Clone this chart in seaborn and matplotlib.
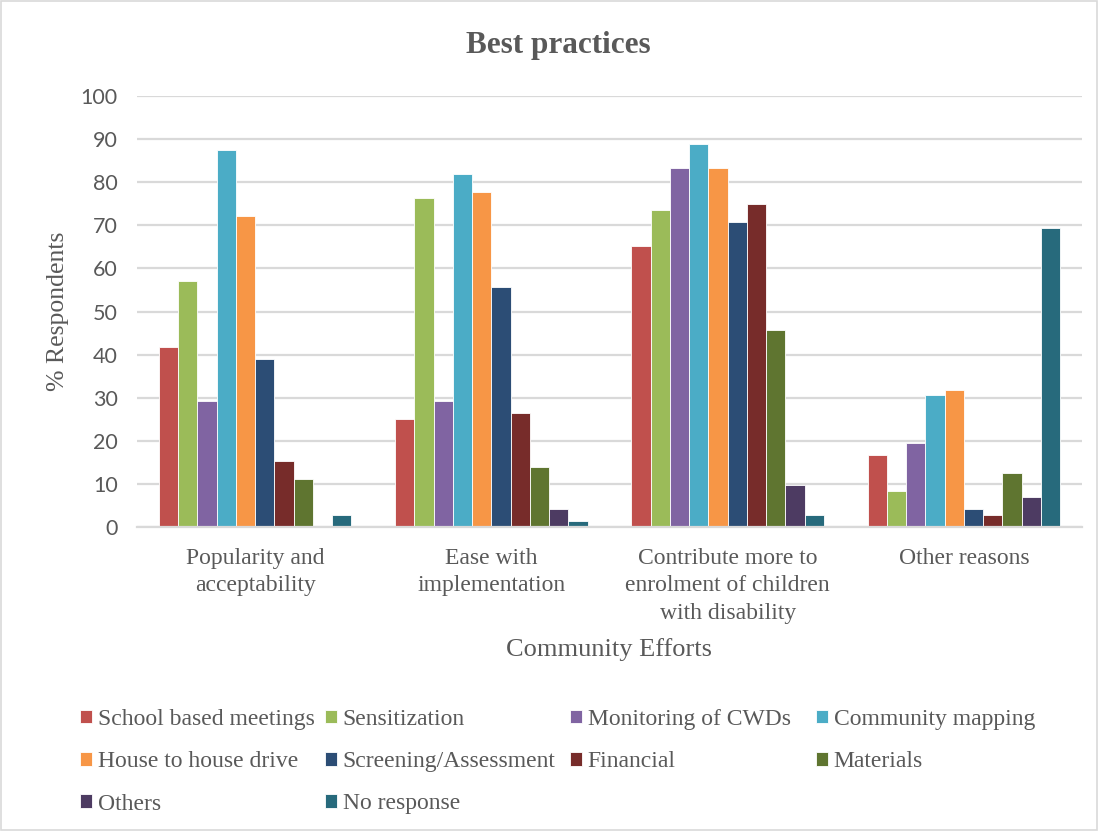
import numpy as np
import pandas as pd
import matplotlib
matplotlib.use("Agg")
import matplotlib.pyplot as plt
from matplotlib.patches import Rectangle
import seaborn as sns

efforts = [
    "Popularity and\nacceptability",
    "Ease with\nimplementation",
    "Contribute more to\nenrolment of children\nwith disability",
    "Other reasons",
]
practices = [
    "School based meetings", "Sensitization", "Monitoring of CWDs",
    "Community mapping", "House to house drive", "Screening/Assessment",
    "Financial", "Materials", "Others", "No response",
]
school_meetings = [41.7, 25.0, 65.3, 16.7]
sensitization = [57.0, 76.4, 73.6, 8.3]
monitoring_cwds = [29.2, 29.2, 83.3, 19.4]
community_mapping = [87.5, 81.9, 88.9, 30.6]
house_to_house = [72.2, 77.8, 83.3, 31.9]
screening = [38.9, 55.6, 70.8, 4.2]
financial = [15.3, 26.4, 75.0, 2.8]
materials = [11.1, 13.9, 45.8, 12.5]
others = [0.0, 4.2, 9.7, 6.9]
no_response = [2.8, 1.4, 2.8, 69.4]

colors = ["#C0504D", "#9BBB59", "#8064A2", "#4BACC6", "#F79646",
          "#2C4D75", "#772C2A", "#5F7530", "#4D3B62", "#276A7C"]

series = [school_meetings, sensitization, monitoring_cwds, community_mapping,
          house_to_house, screening, financial, materials, others, no_response]
rows = []
for name, vals in zip(practices, series):
    for eff, v in zip(efforts, vals):
        rows.append({"effort": eff, "practice": name, "pct": v})
df = pd.DataFrame(rows)

sns.set_theme(style="white")
serif = "Liberation Serif"
sans = "Lato"
text_color = "#595959"

W, H = 1098, 831
fig = plt.figure(figsize=(W / 100, H / 100), dpi=100)
ax = fig.add_axes([137 / W, 1 - 527 / H, 945 / W, 431 / H])

sns.barplot(data=df, x="effort", y="pct", hue="practice", order=efforts,
            hue_order=practices, palette=colors, width=0.815, gap=0,
            edgecolor="white", linewidth=0.6, saturation=1, ax=ax)

ax.set_ylim(0, 100)
ax.set_yticks(np.arange(0, 101, 10))
ax.yaxis.grid(True, color="#D9D9D9", linewidth=1.6)
ax.set_axisbelow(True)
for s in ["top", "right", "left"]:
    ax.spines[s].set_visible(False)
ax.spines["bottom"].set_color("#D9D9D9")
ax.spines["bottom"].set_linewidth(1.6)
ax.tick_params(axis="y", length=0, pad=14, labelsize=15.5, labelcolor=text_color)
ax.tick_params(axis="x", length=0, pad=15)
for lab in ax.get_yticklabels():
    lab.set_fontfamily(sans)
ax.set_xticks(range(len(efforts)))
ax.set_xticklabels(efforts, fontfamily=serif, fontsize=17, color=text_color,
                   linespacing=1.40)

ax.set_xlabel("Community Efforts", fontfamily=serif, fontsize=19,
              color=text_color, labelpad=10)
ax.set_ylabel("% Respondents", fontfamily=serif, fontsize=18.5,
              color=text_color, labelpad=8)

fig.text(558 / W, 1 - 45 / H, "Best practices", ha="center", va="center",
         fontfamily=serif, fontsize=22.5, fontweight="bold", color=text_color)

# Legend laid out as four evenly spaced columns, filled row by row
handles, labels = ax.get_legend_handles_labels()
ax.get_legend().remove()
col_x = [80, 325, 570, 816]
ncols = 4
for c in range(ncols):
    idx = list(range(c, len(labels), ncols))
    leg = fig.legend([handles[i] for i in idx], [labels[i] for i in idx],
                     loc="upper left", bbox_to_anchor=(col_x[c] / W, 1 - 709 / H),
                     ncol=1, frameon=False, borderpad=0, borderaxespad=0,
                     handlelength=0.5, handleheight=0.5, handletextpad=0.25,
                     labelspacing=0.9, prop={"family": serif, "size": 17})
    for t in leg.get_texts():
        t.set_color(text_color)

fig.patches.append(Rectangle((0.001, 0.001), 0.998, 0.998,
                             transform=fig.transFigure, fill=False,
                             edgecolor="#D9D9D9", linewidth=1.2))

fig.savefig("out.png", dpi=100)
